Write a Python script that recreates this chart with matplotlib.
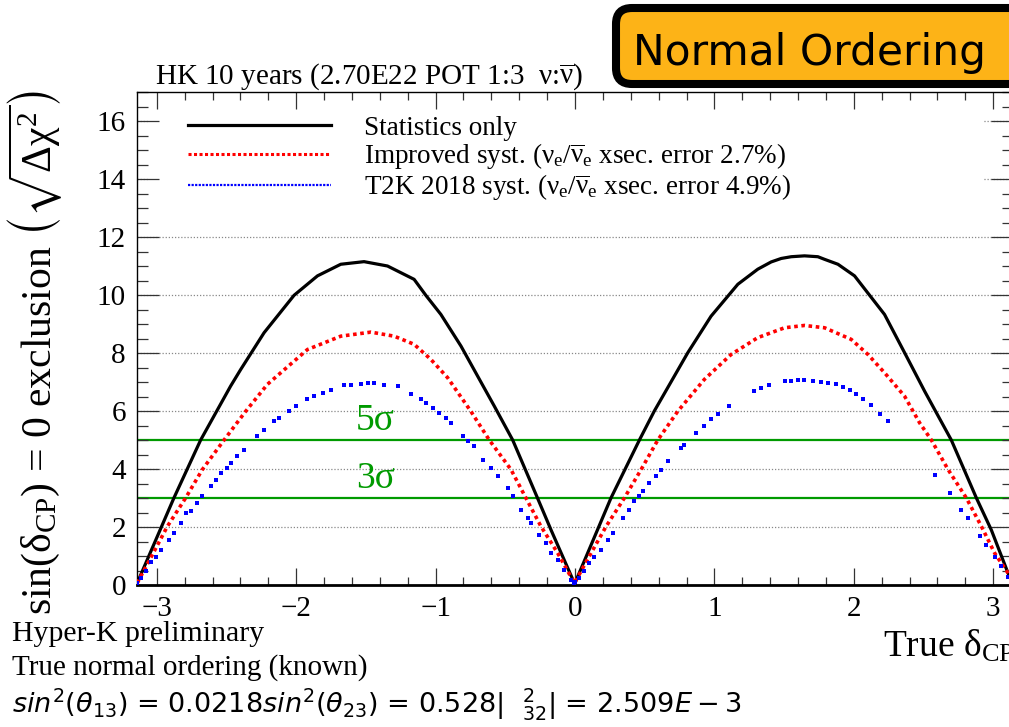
import matplotlib
matplotlib.use("Agg")
import matplotlib.pyplot as plt
from matplotlib.patches import FancyBboxPatch, Rectangle
from matplotlib.lines import Line2D
from matplotlib.ticker import MultipleLocator
import numpy as np

plt.rcParams['font.family'] = ['Liberation Serif', 'DejaVu Serif']
plt.rcParams['mathtext.fontset'] = 'stix'
plt.rcParams['mathtext.default'] = 'regular'

# ---------------- data ----------------
stat_x = [-3.140, -2.877, -2.685, -2.470, -2.398, -2.230, -2.015, -1.847, -1.680,
          -1.513, -1.345, -1.154, -1.070, -0.962, -0.818, -0.675, -0.579, -0.447,
          -0.269, -0.172, -0.005,
          0.000, 0.258, 0.462, 0.569, 0.809, 0.976, 1.168, 1.311, 1.407, 1.479,
          1.551, 1.646, 1.742, 1.790, 1.886, 2.005, 2.220, 2.364, 2.508, 2.699,
          2.879, 2.986, 3.106, 3.140]
stat_y = [0.07, 3.00, 5.00, 6.86, 7.43, 8.70, 9.99, 10.66, 11.06,
          11.15, 11.00, 10.54, 9.99, 9.33, 8.24, 7.00, 6.17, 5.00,
          3.00, 1.90, 0.07,
          0.07, 3.00, 5.00, 6.00, 8.01, 9.27, 10.37, 10.89, 11.14, 11.26,
          11.32, 11.35, 11.32, 11.23, 11.06, 10.66, 9.33, 8.01, 6.68, 5.00,
          3.00, 1.90, 0.41, 0.05]

impr_x = [-3.140, -3.044, -2.924, -2.793, -2.673, -2.517, -2.362, -2.206, -1.919,
          -1.680, -1.464, -1.297, -1.154, -1.034, -0.914, -0.747, -0.615, -0.459,
          -0.352, -0.244, -0.124, -0.005,
          0.000, 0.115, 0.223, 0.354, 0.474, 0.594, 0.737, 0.928, 1.120, 1.311,
          1.503, 1.646, 1.790, 1.981, 2.101, 2.220, 2.364, 2.472, 2.556, 2.676,
          2.807, 2.915, 3.010, 3.106, 3.140]
impr_y = [0.07, 0.93, 2.02, 3.00, 3.98, 5.00, 5.99, 6.92, 8.12,
          8.58, 8.72, 8.58, 8.30, 7.78, 7.15, 5.99, 5.00, 3.98,
          3.00, 2.02, 1.10, 0.07,
          0.10, 1.10, 2.02, 3.00, 3.98, 5.00, 5.99, 7.09, 7.95, 8.53,
          8.87, 8.95, 8.87, 8.47, 7.95, 7.32, 6.51, 5.59, 5.00, 3.98,
          3.00, 2.02, 1.10, 0.41, 0.10]

t2k_x = [-3.139, -3.116, -3.080, -3.044, -3.008, -2.972, -2.912, -2.876, -2.828,
         -2.793, -2.757, -2.709, -2.673, -2.613, -2.577, -2.541, -2.493, -2.469,
         -2.421, -2.374, -2.278, -2.230, -2.159, -2.123, -2.051, -2.003, -1.919,
         -1.872, -1.811, -1.752, -1.656, -1.608, -1.536, -1.488, -1.441, -1.369,
         -1.273, -1.177, -1.106, -1.070, -1.022, -0.974, -0.926, -0.890, -0.806,
         -0.770, -0.723, -0.663, -0.603, -0.555, -0.483, -0.447, -0.388, -0.340,
         -0.316, -0.256, -0.208, -0.172, -0.124, -0.077, -0.029, -0.005,
         0.000, 0.031, 0.067, 0.103, 0.139, 0.187, 0.234, 0.270, 0.342, 0.390,
         0.426, 0.462, 0.486, 0.534, 0.582, 0.617, 0.665, 0.761, 0.785, 0.869,
         0.928, 0.976, 1.025, 1.108, 1.287, 1.335, 1.395, 1.503, 1.551, 1.598,
         1.646, 1.706, 1.766, 1.814, 1.874, 1.922, 1.969, 2.017, 2.065, 2.125,
         2.185, 2.245, 2.579, 2.687, 2.771, 2.819, 2.902, 2.950, 3.010, 3.058,
         3.106]
t2k_y = [0.07, 0.24, 0.47, 0.81, 0.98, 1.22, 1.56, 1.79, 2.14,
         2.48, 2.54, 2.83, 3.06, 3.40, 3.63, 3.87, 4.04, 4.21,
         4.44, 4.67, 5.13, 5.36, 5.65, 5.77, 5.99, 6.17, 6.40,
         6.51, 6.63, 6.72, 6.88, 6.89, 6.93, 6.95, 6.95, 6.90,
         6.86, 6.60, 6.40, 6.28, 6.11, 5.94, 5.77, 5.59, 5.13,
         4.96, 4.78, 4.32, 4.04, 3.75, 3.35, 3.06, 2.60, 2.31,
         2.14, 1.73, 1.45, 1.10, 0.87, 0.53, 0.18, 0.07,
         0.12, 0.24, 0.47, 0.76, 0.98, 1.22, 1.56, 1.79, 2.31, 2.60,
         2.88, 3.06, 3.23, 3.52, 3.75, 3.98, 4.27, 4.73, 4.84, 5.25,
         5.50, 5.71, 5.88, 6.17, 6.68, 6.80, 6.89, 7.03, 7.05, 7.06,
         7.06, 7.03, 6.99, 6.97, 6.92, 6.82, 6.74, 6.59, 6.42, 6.20,
         5.91, 5.65, 3.81, 3.17, 2.60, 2.31, 1.70, 1.39, 0.98, 0.64,
         0.29]

sigma_levels = [5, 3]
sigma_labels = ["5σ", "3σ"]
y_grid = [2, 4, 6, 8, 10, 12, 14, 16]
x_ticks = [-3, -2, -1, 0, 1, 2, 3]
x_ticklabels = ['\u22123', '\u22122', '\u22121', '0', '1', '2', '3']

legend_labels = [
    "Statistics only",
    r"Improved syst. ($\nu_{e}$/$\overline{\nu}_{e}$ xsec. error 2.7%)",
    r"T2K 2018 syst. ($\nu_{e}$/$\overline{\nu}_{e}$ xsec. error 4.9%)",
]

# ---------------- figure ----------------
W, H = 1009, 727
fig = plt.figure(figsize=(W / 100, H / 100), dpi=100)
ax_l, ax_r, ax_t, ax_b = 137, 1013, 92, 585
ax = fig.add_axes([ax_l / W, 1 - ax_b / H, (ax_r - ax_l) / W, (ax_b - ax_t) / H])
ax.set_xlim(-np.pi, np.pi)
ax.set_ylim(0, 17)

for g in y_grid:
    ax.axhline(g, color='#888888', lw=0.9, ls=(0, (1, 1.5)), zorder=0.5)

# white legend background
ax.add_patch(Rectangle((0.012, 0.77), 0.955, 0.2, transform=ax.transAxes,
                       facecolor='white', edgecolor='none', zorder=0.8))

for lvl, lab in zip(sigma_levels, sigma_labels):
    ax.axhline(lvl, color='#009a00', lw=1.6, zorder=1)
    ax.text(-1.43, lvl + 0.08, lab, color='#009a00', fontsize=27,
            ha='center', va='bottom', zorder=1)

ax.plot(stat_x, stat_y, color='black', lw=2.3, zorder=3, solid_joinstyle='round')
ax.plot(impr_x, impr_y, color='#ff0000', lw=2.6, ls=(0, (1, 1.0)), zorder=3)
ax.plot(t2k_x, t2k_y, ls='none', marker='s', ms=2.4, color='#0000ff', mew=0, zorder=3)

# ticks
ax.xaxis.set_minor_locator(MultipleLocator(0.2))
ax.yaxis.set_major_locator(MultipleLocator(2))
ax.yaxis.set_minor_locator(MultipleLocator(0.5))
ax.set_xticks(x_ticks)
ax.set_xticklabels(x_ticklabels)
ax.tick_params(axis='both', which='both', direction='in', top=True, right=True,
               labelsize=21, width=0.9, color='#333333')
ax.tick_params(axis='x', which='major', length=12, pad=8)
ax.tick_params(axis='x', which='minor', length=6)
ax.tick_params(axis='y', which='major', length=16, pad=8)
ax.tick_params(axis='y', which='minor', length=8)
for s in ax.spines.values():
    s.set_linewidth(1.0)
ax.spines['bottom'].set_linewidth(2.0)

# legend
handles = [Line2D([], [], color='black', lw=2.3),
           Line2D([], [], color='#ff0000', lw=2.2, ls=(0, (1, 0.8))),
           Line2D([], [], color='#0000ff', lw=1.6, ls=(0, (1, 0.6)))]
ax.legend(handles, legend_labels, loc='upper left', bbox_to_anchor=(0.058, 0.952),
          frameon=False, fontsize=19.5, handlelength=5.3, handletextpad=1.2,
          labelspacing=0.03, borderpad=0, borderaxespad=0)

# labels
fig.text(35 / W, 1 - 352 / H,
         r"sin($\delta_{CP}$) = 0 exclusion $\left(\sqrt{\Delta\chi^{2}}\right)$",
         rotation=90, ha='center', va='center', fontsize=30)
fig.text(883 / W, 1 - 657 / H, r"True $\delta_{CP}$", fontsize=27,
         ha='left', va='baseline')
fig.text(155 / W, 1 - 84 / H, r"HK 10 years (2.70E22 POT 1:3  $\nu$:$\overline{\nu}$)",
         fontsize=21, ha='left', va='baseline')

fig.text(12 / W, 1 - 641 / H, "Hyper-K preliminary", fontsize=21.5, ha='left', va='baseline')
fig.text(12 / W, 1 - 675 / H, "True normal ordering (known)", fontsize=21,
         ha='left', va='baseline')
fig.text(12 / W, 1 - 712 / H,
         r"$\mathit{sin}^{2}(\mathit{\theta}_{13})$ = 0.0218$\mathit{sin}^{2}(\mathit{\theta}_{23})$"
         r" = 0.528|  $^{2}_{32}$| = 2.509$\mathit{E} - 3$",
         fontsize=19.5, ha='left', va='baseline', family='DejaVu Sans',
         math_fontfamily='dejavusans')

# Normal Ordering box (pixel-based geometry in inches)
box = FancyBboxPatch((6.16, (H - 84) / 100), 4.4, 0.76,
                     boxstyle="round,pad=0,rounding_size=0.16",
                     transform=fig.dpi_scale_trans, facecolor='#fdb317',
                     edgecolor='black', lw=5.8, zorder=5)
fig.patches.append(box)
fig.text(633 / W, 1 - 65 / H, "Normal Ordering", family='DejaVu Sans', fontsize=30.5,
         ha='left', va='baseline', zorder=6)

fig.savefig("out.png", dpi=100)
